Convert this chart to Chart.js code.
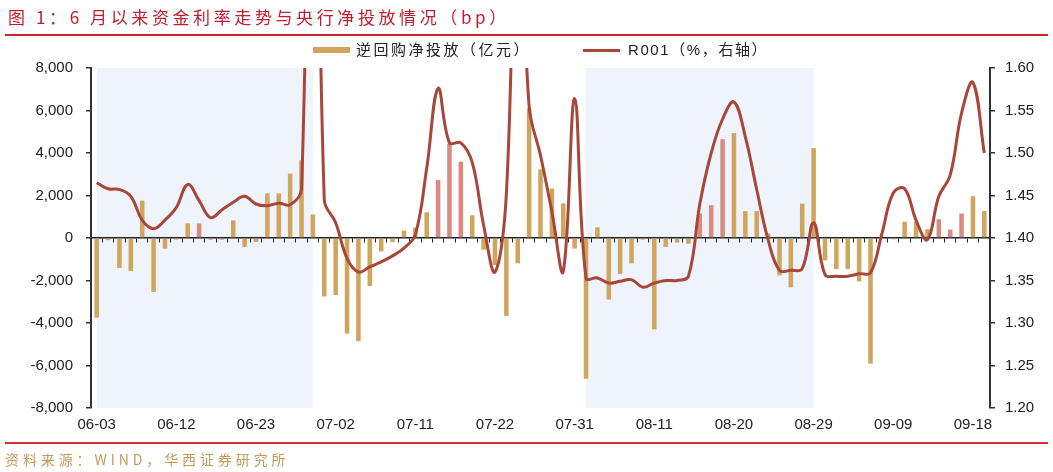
<!DOCTYPE html>
<html>
<head>
<meta charset="utf-8">
<script src="https://cdn.jsdelivr.net/npm/chart.js@4.4.1/dist/chart.umd.min.js"></script>
<style>
    html, body { margin: 0; padding: 0; background: #fff; }
    #wrap { position: relative; width: 1053px; height: 472px; overflow: hidden; }
    #chartBox { position: absolute; left: 0; top: 0; width: 1053px; height: 472px; }
    .title { position: absolute; left: 8px; top: 3px; font-size: 17px; font-family: "Noto Sans CJK SC", sans-serif; color: #BF1E2E; letter-spacing: 3.6px; white-space: nowrap; line-height: 28px; }
    .rule { position: absolute; left: 5px; width: 1043px; }
    .source { position: absolute; left: 5px; top: 448px; font-size: 14px; font-family: "Noto Sans CJK SC", sans-serif; color: #C49A5C; letter-spacing: 3.9px; white-space: nowrap; line-height: 22px; }
    .lg { position: absolute; font-size: 15px; font-family: "Liberation Sans", "Noto Sans CJK SC", sans-serif; color: #222; white-space: nowrap; line-height: 20px; top: 40px; letter-spacing: 1.6px; }
    .sw { position: absolute; }
</style>
</head>
<body>
<div id="wrap">
    <div id="chartBox"><canvas id="chart"></canvas></div>
    <div class="title">图 1：6 月以来资金利率走势与央行净投放情况（bp）</div>
    <div class="rule" style="top:34px;height:2px;background:#C8252C"></div>
    <div class="sw" id="swBar" style="left:313px;top:47px;width:37px;height:6px"></div>
    <div class="lg" id="lgBar" style="left:356px;letter-spacing:2.5px"></div>
    <div class="sw" id="swLine" style="left:583px;top:49px;width:37px;height:3px"></div>
    <div class="lg" id="lgLine" style="left:628px"></div>
    <div class="rule" style="top:442px;height:2px;background:#D0333A"></div>
    <div class="source">资料来源：WIND，华西证券研究所</div>
</div>
<script>
// trading days, 2025-06-03 .. 2025-09-19
const dates = [
    "06-03", "06-04", "06-05", "06-06", "06-09", "06-10", "06-11", "06-12", "06-13", "06-16",
    "06-17", "06-18", "06-19", "06-20", "06-23", "06-24", "06-25", "06-26", "06-27", "06-30",
    "07-01", "07-02", "07-03", "07-04", "07-07", "07-08", "07-09", "07-10", "07-11", "07-14",
    "07-15", "07-16", "07-17", "07-18", "07-21", "07-22", "07-23", "07-24", "07-25", "07-28",
    "07-29", "07-30", "07-31", "08-01", "08-04", "08-05", "08-06", "08-07", "08-08", "08-11",
    "08-12", "08-13", "08-14", "08-15", "08-18", "08-19", "08-20", "08-21", "08-22", "08-25",
    "08-26", "08-27", "08-28", "08-29", "09-01", "09-02", "09-03", "09-04", "09-05", "09-08",
    "09-09", "09-10", "09-11", "09-12", "09-15", "09-16", "09-17", "09-18", "09-19"
];

const tickLabels = ["06-03", "06-12", "06-23", "07-02", "07-11", "07-22", "07-31", "08-11", "08-20", "08-29", "09-09", "09-18"];

// 逆回购净投放, 亿元
const netInjection = [
    -3750, -100, -1410, -1550, 1760, -2540, -500, -80, 690, 690,
    -80, -80, 830, -420, -190, 2100, 2100, 3030, 3660, 1110,
    -2750, -2680, -4500, -4860, -2260, -630, -190, 350, 490, 1210,
    2730, 4440, 3590, 1070, -550, -1270, -3670, -1190, 6100, 3230,
    2330, 1630, -500, -6620, 500, -2900, -1690, -1195, -75, -4300,
    -415, -215, -270, 1155, 1545, 4650, 4935, 1265, 1265, 210,
    -1765, -2320, 1615, 4230, -1055, -1465, -1465, -2045, -5915, 0,
    -65, 770, 770, 415, 885, 395, 1155, 1970, 1270
];

// R001, %
const r001 = [
    1.465, 1.458, 1.457, 1.449, 1.421, 1.411, 1.421, 1.436, 1.463, 1.444,
    1.424, 1.433, 1.442, 1.449, 1.440, 1.438, 1.441, 1.439, 1.458, 2.200,
    1.445, 1.418, 1.376, 1.360, 1.366, 1.372, 1.379, 1.388, 1.404, 1.482,
    1.576, 1.512, 1.512, 1.489, 1.415, 1.360, 1.452, 1.850, 1.555, 1.497,
    1.431, 1.361, 1.564, 1.353, 1.353, 1.347, 1.349, 1.351, 1.342, 1.347,
    1.350, 1.350, 1.355, 1.440, 1.500, 1.540, 1.560, 1.519, 1.457, 1.398,
    1.362, 1.362, 1.364, 1.418, 1.357, 1.355, 1.355, 1.358, 1.359, 1.405,
    1.453, 1.458, 1.421, 1.398, 1.449, 1.474, 1.547, 1.583, 1.500
];

// bars drawn in the lighter red
const highlightDates = ["06-16", "06-17", "06-18", "07-15", "07-16", "07-17", "08-15", "08-18", "08-19", "09-15", "09-16", "09-17"];

// shaded periods
const shadeRanges = [["06-03", "06-30"], ["08-01", "08-29"]];

const barLabel = "逆回购净投放（亿元）";
const lineLabel = "R001（%，右轴）";

const barColor = "#D0A65F";
const hlColor = "#DA8B80";
const lineColor = "#A9463A";
const shadeColor = "#EFF4FC";
const tickFont = { size: 15, family: "'Liberation Sans', Arial, sans-serif" };

document.getElementById("swBar").style.background = barColor;
document.getElementById("swLine").style.background = lineColor;
document.getElementById("lgBar").textContent = barLabel;
document.getElementById("lgLine").textContent = lineLabel;

const shadePlugin = {
    id: "shade",
    beforeDraw(chart) {
        const { ctx, chartArea, scales } = chart;
        ctx.save();
        ctx.fillStyle = shadeColor;
        shadeRanges.forEach(([a, b]) => {
            const x1 = scales.x.getPixelForValue(dates.indexOf(a));
            const x2 = scales.x.getPixelForValue(dates.indexOf(b));
            ctx.fillRect(x1, chartArea.top, x2 - x1, chartArea.bottom - chartArea.top);
        });
        ctx.restore();
    }
};

const ctx = document.getElementById("chart").getContext("2d");
new Chart(ctx, {
    type: "bar",
    data: {
        labels: dates,
        datasets: [
            {
                type: "line",
                label: lineLabel,
                data: r001,
                yAxisID: "y1",
                borderColor: lineColor,
                borderWidth: 3,
                pointRadius: 0,
                tension: 0.4,
                order: 1
            },
            {
                type: "bar",
                label: barLabel,
                data: netInjection,
                yAxisID: "y",
                backgroundColor: dates.map(d => highlightDates.includes(d) ? hlColor : barColor),
                barPercentage: 0.4,
                categoryPercentage: 1,
                order: 2
            }
        ]
    },
    options: {
        responsive: true,
        maintainAspectRatio: false,
        animation: false,
        layout: { padding: { top: 68, bottom: 30, left: 0, right: 0 } },
        plugins: {
            legend: { display: false },
            tooltip: { enabled: false }
        },
        scales: {
            x: {
                position: "bottom",
                grid: { display: false, drawTicks: false },
                border: { display: false },
                ticks: {
                    autoSkip: false,
                    maxRotation: 0,
                    padding: 8,
                    color: "#222",
                    font: tickFont,
                    callback: function(v, i) {
                        return tickLabels.includes(dates[i]) ? dates[i] : "";
                    }
                }
            },
            xZero: {
                type: "category",
                position: { y: 0 },
                grid: { drawOnChartArea: false, drawTicks: true, tickLength: 4, color: "#222", lineWidth: 1, offset: true },
                border: { color: "#222", width: 1.5 },
                ticks: { display: false },
                afterFit: s => { s.height = 0; }
            },
            y: {
                position: "left",
                min: -8000,
                max: 8000,
                ticks: { stepSize: 2000, padding: 13, color: "#222", font: tickFont },
                grid: { drawOnChartArea: false, drawTicks: true, tickLength: 5, color: "#333", lineWidth: 1.5 },
                border: { color: "#333", width: 2 },
                afterFit: s => { s.width = 91; }
            },
            y1: {
                position: "right",
                min: 1.2,
                max: 1.6,
                ticks: {
                    stepSize: 0.05,
                    padding: 10,
                    color: "#222",
                    font: tickFont,
                    callback: v => v.toFixed(2)
                },
                grid: { drawOnChartArea: false, drawTicks: true, tickLength: 5, color: "#333", lineWidth: 1.5 },
                border: { color: "#333", width: 2 },
                afterFit: s => { s.width = 63; }
            }
        }
    },
    plugins: [shadePlugin]
});
</script>
</body>
</html>
